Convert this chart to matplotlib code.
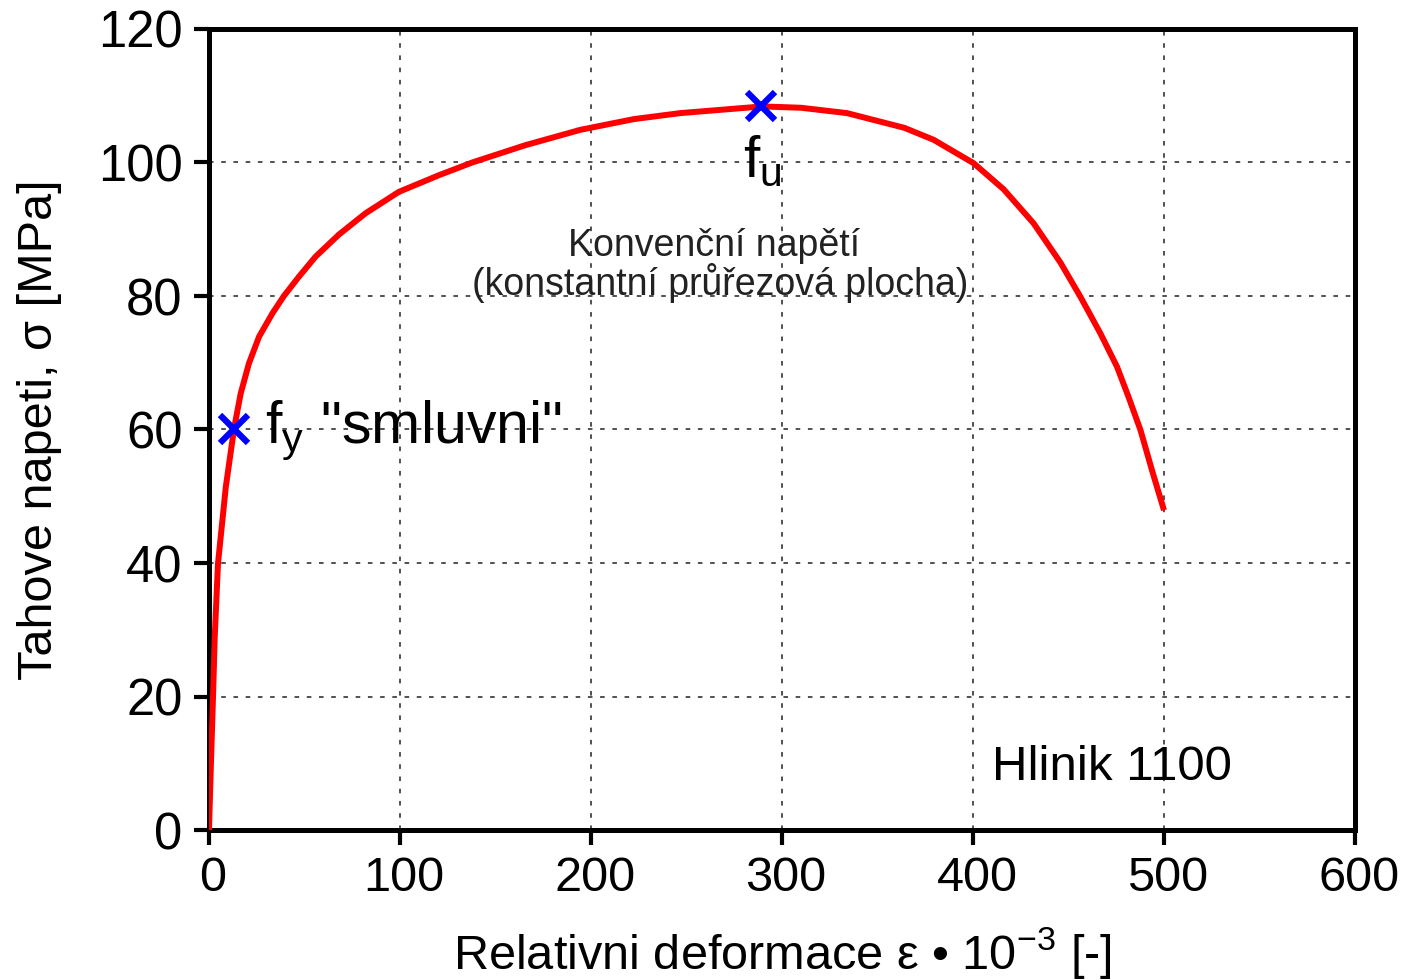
import matplotlib
matplotlib.use("Agg")
import matplotlib.pyplot as plt
from matplotlib.transforms import ScaledTranslation

plt.rcParams['font.family'] = ['Liberation Sans', 'DejaVu Sans']
plt.rcParams['mathtext.fontset'] = 'custom'
plt.rcParams['mathtext.rm'] = 'Liberation Sans'
plt.rcParams['mathtext.it'] = 'Liberation Sans:italic'

# krivka napeti - deformace
eps = [0, 0.9, 2.1, 3.0, 4.7, 8.8, 13.1, 16.6, 20.9, 26.2, 33.2, 39.2, 47.1, 55.8, 68,
       82, 99.4, 120.4, 137.8, 165.7, 194.5, 222.4, 246.8, 289.6, 310, 334, 364, 379.4,
       400.3, 416, 431.7, 445.8, 456.2, 466.7, 475.4, 481.4, 487.7, 493.7, 500]
sigma = [0, 8.9, 19.9, 28.9, 39.9, 51.4, 60.1, 65.4, 69.9, 73.9, 77.4, 80.0, 82.9, 85.9, 89.2,
         92.4, 95.6, 98.1, 100, 102.6, 104.9, 106.5, 107.4, 108.4, 108.2, 107.4, 105.2, 103.4,
         99.9, 96.0, 90.9, 85.0, 79.9, 74.4, 69.4, 64.9, 59.9, 53.9, 47.9]

# vyznacne body
fy_pt = (13, 60)
fu_pt = (289, 108.5)

xticks = [0, 100, 200, 300, 400, 500, 600]
yticks = [0, 20, 40, 60, 80, 100, 120]

fig = plt.figure(figsize=(14.05, 9.8), dpi=100)
ax = fig.add_axes([209 / 1405, 1 - 830 / 980, (1355 - 209) / 1405, (830 - 29) / 980])

ax.plot(eps, sigma, color='red', lw=4.3, solid_capstyle='butt', solid_joinstyle='round', zorder=3)
ax.plot([fy_pt[0], fu_pt[0]], [fy_pt[1], fu_pt[1]], ls='none', marker='x',
        color='blue', ms=20, mew=4.5, zorder=4)

ax.set_xlim(0, 600)
ax.set_ylim(0, 120)
ax.set_xticks(xticks)
ax.set_yticks(yticks)
ax.grid(True, color='#222222', lw=1.1, ls=(0, (3, 5)))

for s in ax.spines.values():
    s.set_linewidth(3.6)
ax.tick_params(direction='out', length=11, width=3, labelsize=35, pad=8)
ax.tick_params(axis='y', labelsize=36.5)
shift = ScaledTranslation(4 / 100, 0, fig.dpi_scale_trans)
for lab in ax.get_xticklabels():
    lab.set_transform(lab.get_transform() + shift)

ax.set_xlabel(r'Relativni deformace ε • 10$^{\mathrm{-3}}$ [-]', fontsize=35, labelpad=17)
ax.set_ylabel('Tahove napeti, σ [MPa]', fontsize=35, labelpad=26)

ax.text(29.5, 58.0, r'$\mathrm{f}_{\mathrm{y}}$ "smluvni"', fontsize=42.5, va='baseline', ha='left')
ax.text(279.6, 97.9, r'$\mathrm{f}_{\mathrm{u}}$', fontsize=42, va='baseline', ha='left')
ax.text(264.4, 86.0, 'Konvenční napětí', fontsize=27, color='#222222', ha='center', va='baseline')
ax.text(267.5, 80.2, '(konstantní průřezová plocha)', fontsize=27, color='#222222',
        ha='center', va='baseline')
ax.text(410, 7.5, 'Hlinik 1100', fontsize=35.5, ha='left', va='baseline')

fig.savefig('out.png', dpi=100)
